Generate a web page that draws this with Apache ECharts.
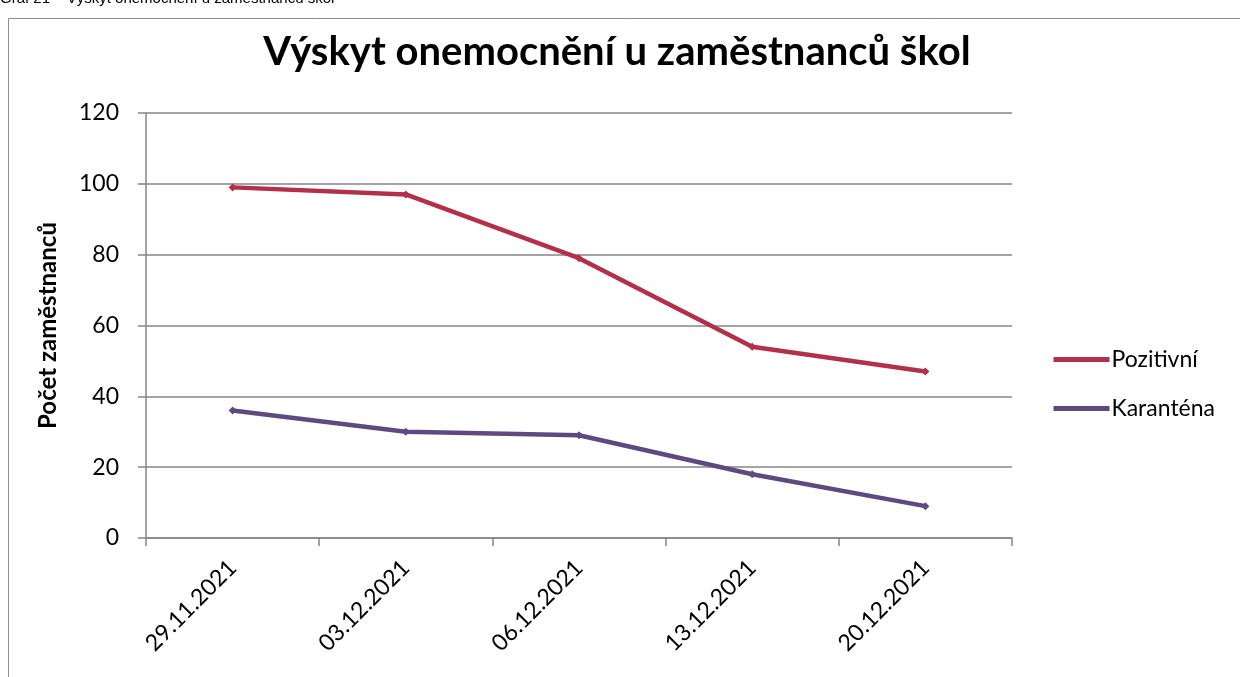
<!DOCTYPE html>
<html>
<head>
<meta charset="utf-8">
<script src="https://cdn.jsdelivr.net/npm/echarts@6/dist/echarts.min.js"></script>
<style>
html, body { margin: 0; padding: 0; background: #fff; }
#chart { width: 1240px; height: 677px; }
</style>
</head>
<body>
<div id="chart"></div>
<script>
var dates = ['29.11.2021', '03.12.2021', '06.12.2021', '13.12.2021', '20.12.2021'];
var pozitivni = [99, 97, 79, 54, 47];
var karantena = [36, 30, 29, 18, 9];

var myChart = echarts.init(document.getElementById('chart'));
var fontMain = 'Lato, "Open Sans", sans-serif';

var option = {
    backgroundColor: '#fff',
    animation: false,
    title: {
        text: 'Výskyt onemocnění u zaměstnanců škol',
        left: 612,
        textAlign: 'center',
        top: 27,
        textStyle: {
            fontFamily: fontMain,
            fontWeight: 'bold',
            fontSize: 40,
            color: '#000'
        }
    },
    graphic: [
        {
            type: 'rect',
            shape: { x: 8.5, y: 18.5, width: 1240, height: 700 },
            style: { fill: 'none', stroke: '#8c8c8c', lineWidth: 1 }
        },
        {
            type: 'text',
            left: 0,
            top: -9,
            style: {
                text: 'Graf 21 – Výskyt onemocnění u zaměstnanců škol',
                font: '15px "Liberation Sans", Arial, sans-serif',
                fill: '#000'
            }
        }
    ],
    legend: {
        orient: 'vertical',
        left: 1046,
        top: 343,
        itemWidth: 56,
        itemHeight: 6,
        itemGap: 26,
        lineStyle: { width: 5 },
        textStyle: { fontFamily: fontMain, fontSize: 23, color: '#000', padding: [0, 0, 0, -3] },
        data: ['Pozitivní', 'Karanténa']
    },
    grid: { left: 146, right: 228, top: 113, bottom: 139 },
    xAxis: {
        type: 'category',
        data: dates,
        boundaryGap: true,
        axisLine: { lineStyle: { color: '#868686', width: 1.5 } },
        axisTick: { show: true, length: 8, lineStyle: { color: '#868686', width: 1.5 } },
        axisLabel: {
            rotate: 45,
            margin: 26,
            fontFamily: fontMain,
            fontSize: 23,
            color: '#000'
        }
    },
    yAxis: {
        type: 'value',
        min: 0,
        max: 120,
        interval: 20,
        name: 'Počet zaměstnanců',
        nameLocation: 'middle',
        nameGap: 86,
        nameTextStyle: { fontFamily: fontMain, fontWeight: 'bold', fontSize: 24, color: '#000' },
        axisLine: { show: true, lineStyle: { color: '#868686', width: 1.5 } },
        axisTick: { show: true, length: 8, lineStyle: { color: '#868686', width: 1.5 } },
        axisLabel: { fontFamily: fontMain, fontSize: 23, color: '#000', margin: 27 },
        splitLine: { lineStyle: { color: '#868686', width: 1.5 } }
    },
    series: [
        {
            name: 'Pozitivní',
            type: 'line',
            data: pozitivni,
            symbol: 'diamond',
            symbolSize: 8,
            lineStyle: { width: 4.5, color: '#B2304A' },
            itemStyle: { color: '#B2304A' }
        },
        {
            name: 'Karanténa',
            type: 'line',
            data: karantena,
            symbol: 'diamond',
            symbolSize: 8,
            lineStyle: { width: 4.5, color: '#5E4A7F' },
            itemStyle: { color: '#5E4A7F' }
        }
    ]
};
myChart.setOption(option);
</script>
</body>
</html>
